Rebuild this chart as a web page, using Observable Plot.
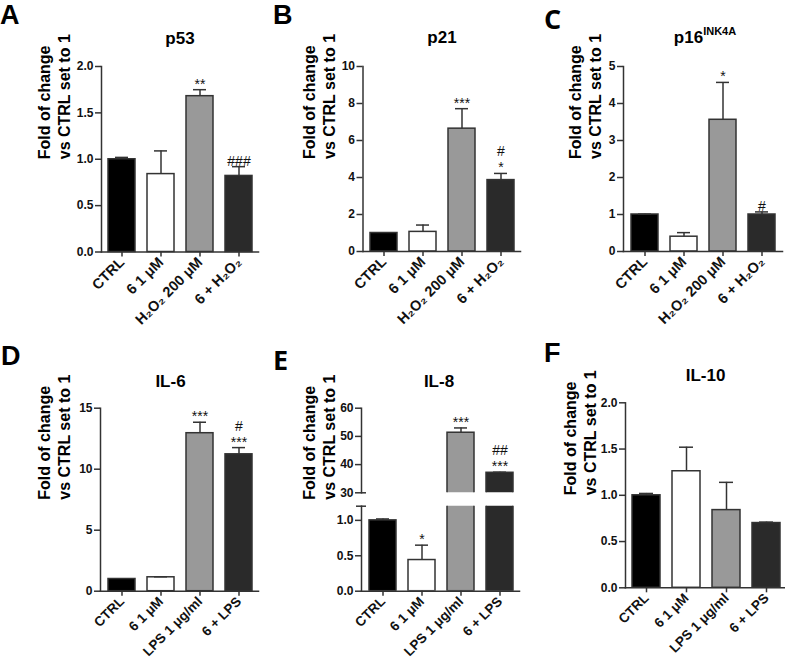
<!DOCTYPE html>
<html>
<head>
<meta charset="utf-8">
<script src="https://cdn.jsdelivr.net/npm/d3@7"></script>
<script src="https://cdn.jsdelivr.net/npm/@observablehq/plot@0.6"></script>
<style>
html, body { margin: 0; padding: 0; background: #fff; }
#fig { position: relative; width: 785px; height: 661px; overflow: hidden; font-family: "Liberation Sans", Arial, sans-serif; }
.pl { position: absolute; }
.lbl { position: absolute; font-weight: bold; white-space: nowrap; color: #000; line-height: normal; }
.ttl { transform: translateX(-50%); font-size: 17px; }
.let { font-size: 27px; }
sup { font-size: 11px; vertical-align: 0; position: relative; top: -8px; }
</style>
</head>
<body>
<div id="fig"></div>
<script>
// ---------- data ----------
const groupsH2O2 = ["CTRL", "6 1 μM", "H₂O₂ 200 μM", "6 + H₂O₂"];
const groupsLPS = ["CTRL", "6 1 μM", "LPS 1 μg/ml", "6 + LPS"];

const p53Mean = [1.00, 0.84, 1.68, 0.82];
const p53Sem  = [0.02, 0.25, 0.07, 0.10];
const p53Sig  = ["", "", "**", "###"];

const p21Mean = [1.00, 1.06, 6.64, 3.86];
const p21Sem  = [0.00, 0.37, 1.08, 0.36];
const p21Sig  = ["", "", "***", "#\n*"];

const p16Mean = [1.00, 0.40, 3.56, 1.00];
const p16Sem  = [0.01, 0.11, 1.01, 0.07];
const p16Sig  = ["", "", "*", "#"];

const il6Mean = [1.00, 1.14, 12.95, 11.22];
const il6Sem  = [0.00, 0.04, 0.90, 0.55];
const il6Sig  = ["", "", "***", "#\n***"];

const il8Mean = [1.00, 0.44, 51.3, 37.1];
const il8Sem  = [0.02, 0.21, 1.7, 0.2];
const il8Sig  = ["", "*", "***", "##\n***"];

const il10Mean = [1.00, 1.26, 0.84, 0.70];
const il10Sem  = [0.02, 0.26, 0.30, 0.01];
const il10Sig  = ["", "", "", ""];

const ticksP53 = [0, 0.5, 1.0, 1.5, 2.0];
const ticksP21 = [0, 2, 4, 6, 8, 10];
const ticksP16 = [0, 1, 2, 3, 4, 5];
const ticksIL6 = [0, 5, 10, 15];
const ticksIL8Top = [30, 40, 50, 60];
const ticksIL8Bottom = [0, 0.5, 1.0];
const ticksIL10 = [0, 0.5, 1.0, 1.5, 2.0];

const yLabelText = "Fold of change\nvs CTRL set to 1";

// ---------- styles / layout ----------
const barFills = ["#000000", "#ffffff", "#999999", "#2a2a2a"];
const ink = "#333";

const layout = {
  A:    {left: 0,   top: 50,  width: 262, height: 295, mL: 101,   mR: 4, mT: 16,    mB: 93.5, labelDx: -48,   xFont: 14.5},
  B:    {left: 262, top: 50,  width: 262, height: 295, mL: 100.5, mR: 4, mT: 16,    mB: 94,   labelDx: -44.5, xFont: 14.5},
  C:    {left: 524, top: 50,  width: 261, height: 295, mL: 99,    mR: 3, mT: 16,    mB: 94,   labelDx: -39,   xFont: 14.5},
  D:    {left: 0,   top: 395, width: 262, height: 266, mL: 100,   mR: 4, mT: 12.7,  mB: 70.3, labelDx: -47,   xFont: 13.5},
  Ebot: {left: 262, top: 395, width: 262, height: 266, mL: 99,    mR: 5, mT: 110.7, mB: 70.3, labelDx: -43, labelDy: -49, xFont: 13.5},
  Etop: {left: 262, top: 395, width: 262, height: 100, mL: 99,    mR: 5, mT: 12.7,  mB: 2.7},
  F:    {left: 524, top: 395, width: 261, height: 266, mL: 101,   mR: 0, mT: 7.3,   mB: 73.7, labelDx: -46,   xFont: 13.5}
};

const fig = document.getElementById("fig");

function rows(cats, mean, sem, sig) {
  return cats.map((c, i) => ({cat: c, mean: mean[i], sem: sem[i], top: mean[i] + sem[i], sig: sig[i]}));
}

function drawPanel(cfg) {
  const {box, cats, data, domain, ticks, fmt, xAxis = true, clip = false, yLabel = true,
         keep = () => true, extra = []} = cfg;
  const errs = data.filter(d => d.sem > 0 && keep(d));
  const sigs = data.filter(d => d.sig && keep(d));
  const axisStyle = {stroke: ink, strokeWidth: 1.5, fill: "#111", fontSize: 12, fontWeight: "bold"};
  const marks = [
    Plot.barY(data, {x: "cat", y: "mean", fill: "cat", stroke: ink, strokeWidth: 1.5, clip}),
    Plot.ruleX(errs, {x: "cat", y1: "mean", y2: "top", stroke: ink, strokeWidth: 1.5}),
    Plot.tickY(errs, {x: "cat", y: "top", stroke: ink, strokeWidth: 1.5, insetLeft: 7, insetRight: 7}),
    Plot.text(sigs, {x: "cat", y: "top", text: "sig", lineAnchor: "bottom", dy: -1,
                     fontSize: 14, fontWeight: "normal", fill: "#111", lineHeight: 1.15}),
    Plot.axisY({ticks, tickFormat: fmt, tickSize: 6, tickPadding: 2, label: null, ...axisStyle}),
    Plot.frame({anchor: "left", stroke: ink, strokeWidth: 1.5}),
    ...extra
  ];
  if (xAxis) {
    marks.push(
      Plot.frame({anchor: "bottom", stroke: ink, strokeWidth: 1.5}),
      Plot.axisX({tickRotate: -45, tickSize: 5, tickPadding: 3, label: null,
                  stroke: ink, strokeWidth: 1.5, fill: "#111", fontSize: box.xFont, fontWeight: "bold"})
    );
  }
  if (yLabel) {
    marks.push(Plot.text([yLabelText], {text: d => d, frameAnchor: "left", rotate: -90,
      dx: box.labelDx, dy: box.labelDy || 0, fontSize: 16, fontWeight: "bold", fill: "#000", lineHeight: 1.25}));
  }
  const svg = Plot.plot({
    width: box.width, height: box.height,
    marginLeft: box.mL, marginRight: box.mR, marginTop: box.mT, marginBottom: box.mB,
    x: {domain: cats, paddingInner: 0.3, paddingOuter: 0.15, align: 0.55, axis: xAxis ? undefined : null},
    y: {domain},
    color: {domain: cats, range: barFills},
    style: {background: "transparent", overflow: "visible", fontFamily: "'Liberation Sans', Arial, sans-serif"},
    marks
  });
  svg.classList.add("pl");
  svg.style.left = box.left + "px";
  svg.style.top = box.top + "px";
  fig.appendChild(svg);
}

const f1 = d3.format(".1f"), f0 = d3.format("d");

drawPanel({box: layout.A, cats: groupsH2O2, data: rows(groupsH2O2, p53Mean, p53Sem, p53Sig), domain: [0, 2], ticks: ticksP53, fmt: f1});
drawPanel({box: layout.B, cats: groupsH2O2, data: rows(groupsH2O2, p21Mean, p21Sem, p21Sig), domain: [0, 10], ticks: ticksP21, fmt: f0});
drawPanel({box: layout.C, cats: groupsH2O2, data: rows(groupsH2O2, p16Mean, p16Sem, p16Sig), domain: [0, 5], ticks: ticksP16, fmt: f0});
drawPanel({box: layout.D, cats: groupsLPS, data: rows(groupsLPS, il6Mean, il6Sem, il6Sig), domain: [0, 15], ticks: ticksIL6, fmt: f0});

const il8 = rows(groupsLPS, il8Mean, il8Sem, il8Sig);
drawPanel({box: layout.Ebot, cats: groupsLPS, data: il8, domain: [0, 1.2], ticks: ticksIL8Bottom, fmt: f1, clip: true,
  keep: d => d.top <= 1.2,
  extra: [Plot.axisY({ticks: [1.2], tickSize: 10, dx: 5, fill: "none", stroke: ink, strokeWidth: 1.5, label: null})]});
drawPanel({box: layout.Etop, cats: groupsLPS, data: il8, domain: [30, 60], ticks: ticksIL8Top, fmt: f0, clip: true,
  xAxis: false, yLabel: false, keep: d => d.mean >= 30,
  extra: [Plot.axisY({ticks: [30], tickSize: 5, dx: 5, fill: "none", stroke: ink, strokeWidth: 1.5, label: null})]});

drawPanel({box: layout.F, cats: groupsLPS, data: rows(groupsLPS, il10Mean, il10Sem, il10Sig), domain: [0, 2], ticks: ticksIL10, fmt: f1});

// ---------- titles & panel letters ----------
const titles = [
  {html: "p53", x: 180, top: 29},
  {html: "p21", x: 442, top: 28},
  {html: "p16<sup>INK4A</sup>", x: 705, top: 28},
  {html: "IL-6", x: 170.5, top: 372},
  {html: "IL-8", x: 439, top: 372},
  {html: "IL-10", x: 705.5, top: 366}
];
titles.forEach(t => {
  const d = document.createElement("div");
  d.className = "lbl ttl";
  d.innerHTML = t.html;
  d.style.left = t.x + "px";
  d.style.top = t.top + "px";
  fig.appendChild(d);
});
const letters = [
  {t: "A", x: 0, top: 0, font: null},
  {t: "B", x: 273, top: 0, font: null},
  {t: "C", x: 544, top: 0, font: "'Open Sans', sans-serif"},
  {t: "D", x: 1, top: 341, font: null},
  {t: "E", x: 273, top: 341, font: "'Open Sans', sans-serif"},
  {t: "F", x: 544, top: 338, font: null}
];
letters.forEach(l => {
  const d = document.createElement("div");
  d.className = "lbl let";
  d.textContent = l.t;
  d.style.left = l.x + "px";
  d.style.top = l.top + "px";
  if (l.font) d.style.fontFamily = l.font;
  fig.appendChild(d);
});
</script>
</body>
</html>
